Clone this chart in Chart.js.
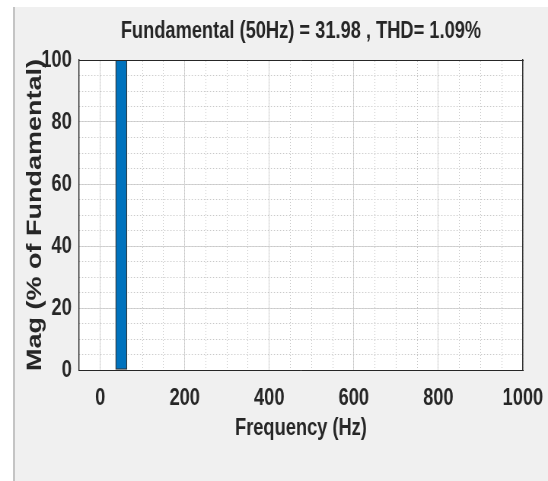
<!DOCTYPE html>
<html>
<head>
<meta charset="utf-8">
<script src="https://cdn.jsdelivr.net/npm/chart.js@4"></script>
<style>
  html, body { margin: 0; padding: 0; background: #fff; }
  #panel { position: absolute; left: 13px; top: 7px; width: 535px; height: 474px;
           background: #f0f0f0; border-left: 2px solid #c4c4c4; box-sizing: border-box; }
  /* the figure is drawn wide and squeezed to 548px, like the original export */
  #fftChart { position: absolute; left: 0; top: 0; width: 548px !important; height: 481px !important; }
</style>
</head>
<body>
<div id="panel"></div>
<canvas id="fftChart" width="720" height="481" style="width:548px;height:481px"></canvas>
<script>
// FFT spectrum data (percent of fundamental)
const freqs = [50];
const mags = [100];
const xTicks = [0, 200, 400, 600, 800, 1000];
const yTicks = [0, 20, 40, 60, 80, 100];
const titleText = 'Fundamental (50Hz) = 31.98 , THD= 1.09%';

const fontFamily = "'Liberation Sans', Arial, sans-serif";
const textColor = '#262626';
const labelFont = { family: fontFamily, size: 24, weight: 'bold' };

// white axes background, like the matlab axes
const plotBackground = {
    id: 'plotBackground',
    beforeDraw(chart) {
        const { ctx, chartArea } = chart;
        ctx.save();
        ctx.fillStyle = '#ffffff';
        ctx.fillRect(chartArea.left, chartArea.top, chartArea.width, chartArea.height);
        ctx.restore();
    }
};

const ctx = document.getElementById('fftChart').getContext('2d');
const chart = new Chart(ctx, {
    type: 'bar',
    data: {
        datasets: [{
            data: freqs.map((f, i) => ({ x: f, y: mags[i] })),
            backgroundColor: '#0072BD',
            borderColor: '#333333',
            borderWidth: 1.3,
            borderSkipped: false,
            barThickness: 15
        }]
    },
    options: {
        responsive: false,
        animation: false,
        devicePixelRatio: 1,
        layout: { padding: { left: 0, top: 7, right: 33, bottom: 0 } },
        plugins: {
            legend: { display: false },
            tooltip: { enabled: false }
        },
        scales: {
            x: {
                type: 'linear',
                position: 'bottom',
                min: -50,
                max: 1000,
                offset: false,
                afterBuildTicks: s => { s.ticks = xTicks.map(v => ({ value: v })); },
                afterFit: s => { s.paddingLeft = 0; s.paddingRight = 0; },
                grid: { color: '#d6d6d6', drawTicks: false, offset: false },
                border: { color: textColor, width: 1, z: 1 },
                ticks: { color: textColor, font: labelFont, padding: 14,
                         maxRotation: 0, autoSkip: false, callback: v => String(v) },
                title: { display: true, text: 'Frequency (Hz)', color: textColor, font: labelFont,
                         padding: { top: -13.2, bottom: 38.6 } }
            },
            x2: {
                // minor grid + title over the plot area
                type: 'linear',
                position: 'top',
                min: -50,
                max: 1000,
                offset: false,
                ticks: { display: false, stepSize: 50 },
                grid: { color: '#c8c8c8', drawTicks: false, offset: false },
                border: { color: textColor, width: 1, dash: [1, 2], z: 1 },
                title: { display: true, text: titleText, color: textColor, font: labelFont,
                         padding: { top: 9.6, bottom: 14.6 } }
            },
            y: {
                min: 0,
                max: 100,
                afterBuildTicks: s => { s.ticks = yTicks.map(v => ({ value: v })); },
                grid: { color: '#d6d6d6', drawTicks: false },
                border: { color: textColor, width: 1.4, z: 1 },
                ticks: { color: textColor, font: labelFont, padding: 9.6 },
                title: { display: true, text: 'Mag (% of Fundamental)', color: textColor,
                         font: { family: fontFamily, size: 27, weight: 'bold' },
                         padding: { top: 30, bottom: -17.8 } }
            },
            y2: {
                position: 'right',
                min: 0,
                max: 100,
                ticks: { display: false, stepSize: 5 },
                grid: { color: '#c8c8c8', drawTicks: false },
                border: { color: textColor, width: 1.4, dash: [1.5, 2.5], z: 1 }
            }
        }
    },
    plugins: [plotBackground]
});
</script>
</body>
</html>
